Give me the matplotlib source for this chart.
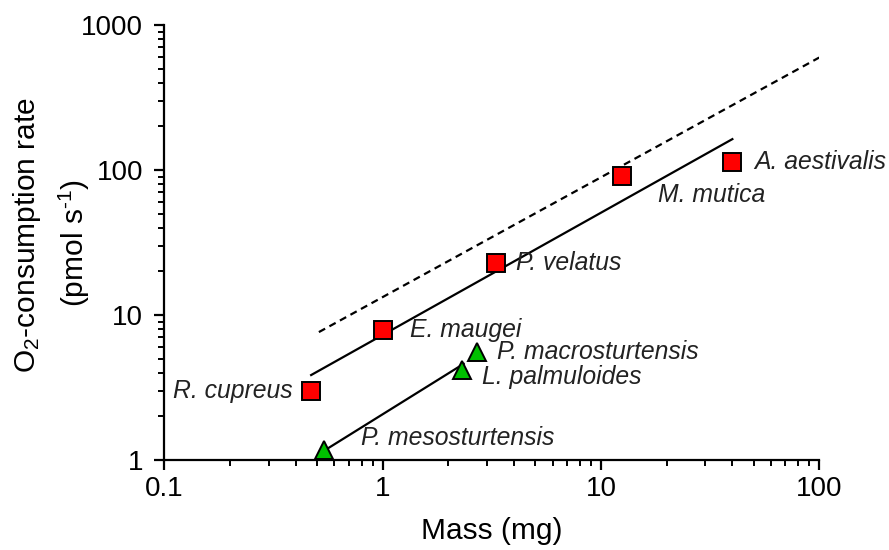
import numpy as np
import matplotlib
matplotlib.use("Agg")
import matplotlib.pyplot as plt
from matplotlib.ticker import LogLocator, FixedLocator, FixedFormatter, NullFormatter

plt.rcParams["font.family"] = ["Liberation Sans", "DejaVu Sans"]
plt.rcParams["mathtext.fontset"] = "custom"
plt.rcParams["mathtext.rm"] = "Liberation Sans"
plt.rcParams["mathtext.it"] = "Liberation Sans:italic"

# Species with red squares
red_species = ["R. cupreus", "E. maugei", "P. velatus", "M. mutica", "A. aestivalis"]
red_mass = [0.47, 1.0, 3.3, 12.5, 40.0]
red_rate = [3.0, 7.9, 23.0, 91.0, 113.0]

# Species with green triangles
green_species = ["P. mesosturtensis", "L. palmuloides", "P. macrosturtensis"]
green_mass = [0.54, 2.3, 2.7]
green_rate = [1.17, 4.2, 5.6]

# Reference allometric line (dashed): rate = coef * mass ** exponent
ref_coef = 13.3
ref_exponent = 0.826
ref_mass_range = [0.51, 100.0]

# Fitted green line extent
green_fit_range = [0.54, 2.35]

x_ticks = [0.1, 1, 10, 100]
x_ticklabels = ["0.1", "1", "10", "100"]
y_ticks = [1, 10, 100, 1000]
y_ticklabels = ["1", "10", "100", "1000"]

# Label offsets (in points) for each species
red_offsets = [(-13.5, 0, "right"), (20, 0, "left"), (14.5, 0, "left"), (26, -14, "left"), (16, 0, "left")]
green_offsets = [(26.5, 9, "left"), (14.5, -5, "left"), (14.5, 0, "left")]

W, H = 889, 550
fig = plt.figure(figsize=(W / 100, H / 100), dpi=100)
ax = fig.add_axes([0.185, 0.1636, 0.7365, 0.7909])
ax.set_xscale("log")
ax.set_yscale("log")
ax.set_xlim(0.1, 100)
ax.set_ylim(1, 1000)


def power_fit(x, y):
    b, a = np.polyfit(np.log10(x), np.log10(y), 1)
    return 10 ** a, b


# Regression lines
ra, rb = power_fit(red_mass, red_rate)
xr = np.array([min(red_mass), max(red_mass)])
ax.plot(xr, ra * xr ** rb, color="black", lw=1.6, zorder=2)

ga, gb = power_fit(green_mass, green_rate)
xg = np.array(green_fit_range)
ax.plot(xg, ga * xg ** gb, color="black", lw=1.6, zorder=2)

xd = np.array(ref_mass_range)
ax.plot(xd, ref_coef * xd ** ref_exponent, color="black", lw=1.6,
        ls=(0, (3.2, 2.2)), zorder=2)

# Data points
ax.plot(red_mass, red_rate, ls="none", marker="s", ms=12.5, mfc="#ff0000",
        mec="black", mew=1.4, zorder=3, clip_on=False)
ax.plot(green_mass, green_rate, ls="none", marker="^", ms=13, mfc="#00c000",
        mec="black", mew=1.4, zorder=3, clip_on=False)

label_size = 17.8
for name, x, y, (dx, dy, ha) in zip(red_species, red_mass, red_rate, red_offsets):
    ax.annotate(name, (x, y), xytext=(dx, dy), textcoords="offset points",
                ha=ha, va="center", fontsize=label_size, style="italic",
                color="#222222", annotation_clip=False)
for name, x, y, (dx, dy, ha) in zip(green_species, green_mass, green_rate, green_offsets):
    ax.annotate(name, (x, y), xytext=(dx, dy), textcoords="offset points",
                ha=ha, va="center", fontsize=label_size, style="italic",
                color="#222222", annotation_clip=False)

# Axes styling
for side in ("top", "right"):
    ax.spines[side].set_visible(False)
for side in ("left", "bottom"):
    ax.spines[side].set_linewidth(1.6)

ax.xaxis.set_major_locator(FixedLocator(x_ticks))
ax.xaxis.set_major_formatter(FixedFormatter(x_ticklabels))
ax.yaxis.set_major_locator(FixedLocator(y_ticks))
ax.yaxis.set_major_formatter(FixedFormatter(y_ticklabels))
ax.xaxis.set_minor_locator(LogLocator(base=10, subs=np.arange(2, 10)))
ax.yaxis.set_minor_locator(LogLocator(base=10, subs=np.arange(2, 10)))
ax.xaxis.set_minor_formatter(NullFormatter())
ax.yaxis.set_minor_formatter(NullFormatter())
ax.tick_params(which="major", direction="out", length=7.5, width=1.6,
               labelsize=20, colors="black")
ax.tick_params(axis="y", which="major", pad=8)
ax.tick_params(axis="x", which="major", pad=4)
ax.tick_params(which="minor", direction="out", length=4.5, width=1.4)

ax.set_xlabel("Mass (mg)", fontsize=21.5, labelpad=11)

# Two-line y-axis title, each line placed in figure pixels
fig.text(27 / W, 1 - 235 / H, "O$_2$-consumption rate", rotation=90,
         ha="center", va="center", fontsize=21.5)
fig.text(74 / W, 1 - 243 / H, "(pmol s$^{\\text{-}1}$)", rotation=90,
         ha="center", va="center", fontsize=21.5)

fig.savefig("out.png", dpi=100)
